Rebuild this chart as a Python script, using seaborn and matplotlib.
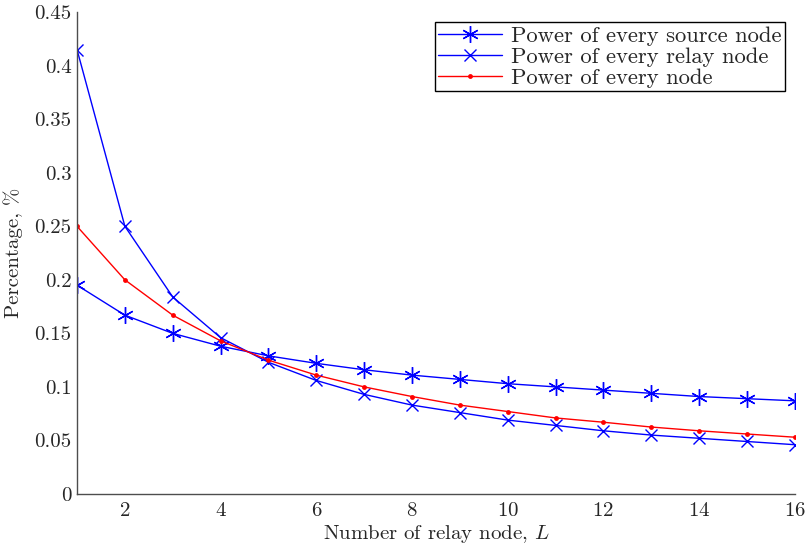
import numpy as np
import matplotlib
matplotlib.use("Agg")
import matplotlib.pyplot as plt
import seaborn as sns
import pandas as pd

# relay node count
L = [1, 2, 3, 4, 5, 6, 7, 8, 9, 10, 11, 12, 13, 14, 15, 16]

# values
source_power = [0.195, 0.167, 0.150, 0.138, 0.129, 0.122, 0.116, 0.111,
                0.107, 0.103, 0.100, 0.097, 0.094, 0.091, 0.089, 0.087]
relay_power = [0.415, 0.250, 0.184, 0.146, 0.123, 0.106, 0.093, 0.083,
               0.076, 0.069, 0.064, 0.059, 0.055, 0.052, 0.049, 0.046]
node_power = [0.250, 0.200, 0.167, 0.143, 0.125, 0.111, 0.100, 0.091,
              0.083, 0.077, 0.071, 0.067, 0.0625, 0.059, 0.056, 0.053]

labels = ["Power of every source node", "Power of every relay node",
          "Power of every node"]

sns.set_style("white")
plt.rcParams["font.family"] = ["cmr10", "DejaVu Serif"]
plt.rcParams["mathtext.fontset"] = "cm"
plt.rcParams["axes.formatter.use_mathtext"] = True
plt.rcParams["xtick.direction"] = "in"
plt.rcParams["ytick.direction"] = "in"

df = pd.DataFrame({"L": L, "source": source_power,
                   "relay": relay_power, "node": node_power})

fig = plt.figure(figsize=(8.11, 5.55), dpi=100)
ax = fig.add_axes([0.095, 0.110, 0.885, 0.868])

sns.lineplot(data=df, x="L", y="source", ax=ax, color="blue", lw=1,
             marker=(6, 2, 0), markersize=12, markeredgewidth=1,
             markeredgecolor="blue", label=labels[0])
sns.lineplot(data=df, x="L", y="relay", ax=ax, color="blue", lw=1,
             marker="x", markersize=9, markeredgewidth=1,
             markeredgecolor="blue", label=labels[1])
sns.lineplot(data=df, x="L", y="node", ax=ax, color="red", lw=1,
             marker="o", markersize=3.5, markeredgewidth=0,
             label=labels[2])

ax.set_xlim(1, 16)
ax.set_ylim(0, 0.45)
ax.set_xticks([2, 4, 6, 8, 10, 12, 14, 16])
ax.set_yticks(np.arange(0, 0.451, 0.05))
ax.set_yticklabels(["0", "0.05", "0.1", "0.15", "0.2", "0.25", "0.3",
                    "0.35", "0.4", "0.45"])
ax.tick_params(labelsize=15, length=5, width=0.8, color="0.3")
ax.tick_params(axis="y", pad=4)
ax.tick_params(axis="x", pad=6)
for s in ["top", "right"]:
    ax.spines[s].set_visible(False)
for s in ["left", "bottom"]:
    ax.spines[s].set_color("0.3")
    ax.spines[s].set_linewidth(1)

ax.set_xlabel("Number of relay node, $L$", fontsize=15, labelpad=2)
ax.set_ylabel("Percentage, %", fontsize=15, labelpad=8)

leg = ax.legend(loc="upper right", fontsize=16.3, frameon=True, fancybox=False,
                edgecolor="black", framealpha=1, borderpad=0.15,
                labelspacing=0.05, handlelength=2.8, handletextpad=0.4,
                borderaxespad=0.45)
leg.get_frame().set_linewidth(1)

fig.savefig("out.png", dpi=100)
